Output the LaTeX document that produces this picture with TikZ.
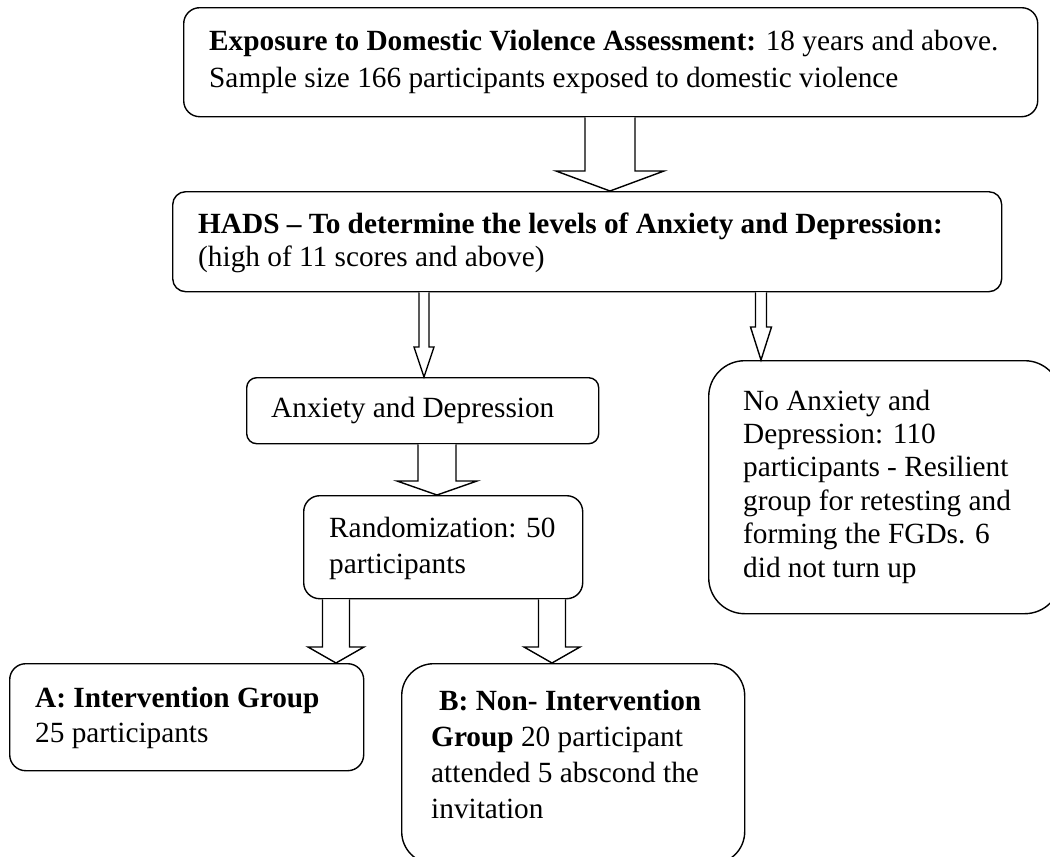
\documentclass[tikz,border=0pt]{standalone}
\usepackage{fontspec}
\setmainfont{Liberation Serif}
\usetikzlibrary{calc}
\newcommand{\ml}[2]{\vtop{\hsize=900pt\parindent=0pt\baselineskip=#1pt #2}}
\newcommand{\barrow}[6]{% x, from node, to node, shaft half width, head half width, head length
  \draw[arr] let \p1=(#2.south), \p2=(#3.north) in
    (#1pt-#4pt,\y1) -- (#1pt-#4pt,\y2+#6pt) -- (#1pt-#5pt,\y2+#6pt) -- (#1pt,\y2)
    -- (#1pt+#5pt,\y2+#6pt) -- (#1pt+#4pt,\y2+#6pt) -- (#1pt+#4pt,\y1);}
\begin{document}
\begin{tikzpicture}[x=1pt,y=-1pt,
  box/.style={draw=black, line width=1.4pt, rectangle, anchor=north west, inner sep=0pt, fill=white},
  txt/.style={anchor=base west, inner sep=0pt, font=\fontsize{29.3}{35}\selectfont},
  arr/.style={draw=black, line width=1.4pt, line join=miter, fill=white}]
\useasboundingbox (0,0) rectangle (1050,857);
\fill[white] (0,0) rectangle (1050,857);
\clip (0,0) rectangle (1050,857);
% boxes
\node[box, rounded corners=16pt, minimum width=854pt, minimum height=109pt] (top) at (183,7) {};
\node[box, rounded corners=13pt, minimum width=829pt, minimum height=100pt] (hads) at (172,191) {};
\node[box, rounded corners=10pt, minimum width=352pt, minimum height=66pt] (anx) at (246,377) {};
\node[box, rounded corners=36pt, minimum width=352pt, minimum height=253pt] (noanx) at (708,360) {};
\node[box, rounded corners=16pt, minimum width=279pt, minimum height=103pt] (rand) at (303,495) {};
\node[box, rounded corners=16pt, minimum width=354pt, minimum height=107pt] (grpa) at (9,663) {};
\node[box, rounded corners=32pt, minimum width=343pt, minimum height=200pt] (grpb) at (401,663) {};
% texts
\node[txt] (ttop) at (209,50) {\ml{37}{\textbf{Exposure to Domestic Violence Assessment:} 18 years and above.\par Sample size 166 participants exposed to domestic violence}};
\node[txt] (thads) at (198,233) {\ml{33}{\textbf{HADS -- To determine the levels of Anxiety and Depression:}\par (high of 11 scores and above)}};
\node[txt] (tanx) at (271,417) {Anxiety and Depression};
\node[txt] (tnoanx) at (743,410) {\ml{33.4}{No Anxiety and\par Depression: 110\par participants - Resilient\par group for retesting and\par forming the FGDs. 6\par did not turn up}};
\node[txt] (trand) at (329,537) {\ml{36}{Randomization: 50\par participants}};
\node[txt] (tgrpa) at (35,707) {\ml{35}{\textbf{A: Intervention Group}\par 25 participants}};
\node[txt] (tgrpb) at (431,710) {\ml{36}{\hspace*{8pt}\textbf{B: Non- Intervention}\par \textbf{Group} 20 participant\par attended 5 abscond the\par invitation}};
% block arrows
\barrow{610}{top}{hads}{25}{54}{20}
\barrow{424}{hads}{anx}{5}{10}{30}
\barrow{761}{hads}{noanx}{5.5}{10.5}{33}
\barrow{437}{anx}{rand}{19}{40}{14}
\barrow{336}{rand}{grpa}{13.5}{28}{16}
\barrow{552}{rand}{grpb}{13.5}{28}{16}
\end{tikzpicture}
\end{document}
